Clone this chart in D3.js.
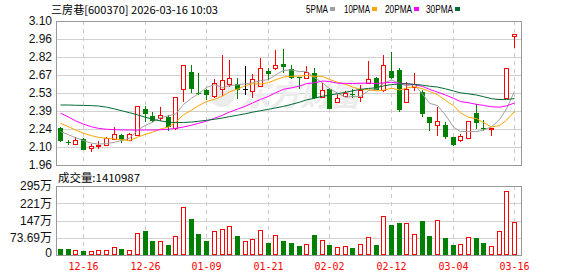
<!DOCTYPE html>
<html>
<head>
<meta charset="utf-8">
<script src="https://cdn.jsdelivr.net/npm/d3@7"></script>
<style>
  html, body { margin: 0; padding: 0; background: #fff; }
  svg { display: block; }
</style>
</head>
<body>
<div id="chart"></div>
<script>
// 交易日 (12-11 .. 03-16)
const dates = ["12-11","12-12","12-15","12-16","12-17","12-18","12-19","12-22","12-23","12-24",
  "12-25","12-26","12-29","12-30","12-31","01-05","01-06","01-07","01-08","01-09",
  "01-12","01-13","01-14","01-15","01-16","01-19","01-20","01-21","01-22","01-23",
  "01-26","01-27","01-28","01-29","01-30","02-02","02-03","02-04","02-05","02-06",
  "02-09","02-10","02-11","02-12","02-13","02-24","02-25","02-26","02-27","03-02",
  "03-03","03-04","03-05","03-06","03-09","03-10","03-11","03-12","03-13","03-16"];

const open = [2.25,2.145,2.13,2.165,2.095,2.11,2.12,2.165,2.20,2.155,
  2.195,2.40,2.35,2.33,2.34,2.255,2.56,2.70,2.53,2.55,
  2.505,2.565,2.605,2.60,2.565,2.545,2.585,2.705,2.73,2.76,
  2.72,2.655,2.645,2.685,2.495,2.565,2.455,2.505,2.525,2.50,
  2.61,2.65,2.555,2.705,2.71,2.455,2.58,2.54,2.34,2.28,
  2.275,2.18,2.155,2.17,2.375,2.255,2.245,2.48,2.49,2.985];
const high = [2.26,2.16,2.18,2.17,2.13,2.15,2.18,2.26,2.205,2.21,
  2.43,2.43,2.38,2.42,2.355,2.50,2.75,2.75,2.685,2.56,
  2.64,2.83,2.79,2.65,2.745,2.68,2.81,2.73,2.87,2.88,
  2.75,2.66,2.745,2.725,2.61,2.57,2.52,2.545,2.565,2.59,
  2.785,2.66,2.83,2.855,2.725,2.62,2.685,2.555,2.34,2.42,
  2.30,2.18,2.205,2.31,2.44,2.315,2.255,2.48,2.73,3.00];
const low = [2.15,2.13,2.12,2.09,2.06,2.09,2.115,2.155,2.145,2.15,
  2.19,2.31,2.31,2.31,2.235,2.24,2.46,2.535,2.52,2.48,
  2.49,2.51,2.58,2.49,2.525,2.49,2.58,2.64,2.71,2.70,
  2.65,2.57,2.64,2.49,2.49,2.41,2.45,2.50,2.495,2.455,
  2.605,2.56,2.54,2.65,2.39,2.455,2.545,2.35,2.235,2.19,
  2.17,2.12,2.145,2.165,2.255,2.235,2.19,2.48,2.48,2.885];
const close = [2.16,2.145,2.16,2.09,2.11,2.12,2.17,2.205,2.165,2.205,
  2.43,2.37,2.32,2.355,2.27,2.50,2.75,2.57,2.53,2.52,
  2.61,2.635,2.645,2.565,2.565,2.64,2.725,2.685,2.75,2.745,
  2.66,2.655,2.70,2.495,2.55,2.415,2.49,2.53,2.525,2.555,
  2.64,2.565,2.75,2.66,2.405,2.565,2.605,2.37,2.30,2.31,
  2.19,2.13,2.19,2.31,2.30,2.255,2.255,2.48,2.73,3.00];
// 成交量 (万手)
const volume = [25.6,25.6,20,17,15.7,20,20,32.8,25.6,20,
  92.6,102.6,59.9,59.9,42.8,79.8,203.8,153.9,89.8,59.9,
  101,109.6,122.5,81,59.9,67,105.5,51.3,85.5,59.9,
  51.3,38.5,47,85.5,64,42.8,34.2,38.5,30,47,
  77,42.8,166.7,128,138,136.8,89.8,145,81,149.6,
  72.7,42.8,47,77,72.7,51.3,38.5,102.6,273.6,141.0987];

const ma5 = [2.225,2.20,2.176,2.153,2.133,2.125,2.13,2.139,2.154,2.173,
  2.235,2.275,2.298,2.336,2.349,2.363,2.439,2.489,2.524,2.574,
  2.596,2.573,2.588,2.595,2.604,2.61,2.628,2.636,2.673,2.709,
  2.713,2.699,2.702,2.651,2.612,2.563,2.53,2.496,2.502,2.503,
  2.548,2.563,2.607,2.634,2.604,2.589,2.597,2.521,2.449,2.43,
  2.355,2.26,2.224,2.226,2.224,2.237,2.262,2.32,2.404,2.544];
const ma10 = [2.29,2.263,2.237,2.211,2.192,2.179,2.171,2.166,2.16,2.153,
  2.18,2.203,2.219,2.245,2.261,2.299,2.357,2.394,2.43,2.462,
  2.48,2.506,2.539,2.56,2.589,2.603,2.601,2.612,2.634,2.657,
  2.662,2.664,2.669,2.662,2.661,2.638,2.615,2.599,2.577,2.558,
  2.556,2.547,2.552,2.568,2.554,2.569,2.58,2.564,2.542,2.517,
  2.472,2.429,2.373,2.338,2.327,2.296,2.261,2.272,2.315,2.384];
const ma20 = [2.37,2.34,2.31,2.283,2.263,2.25,2.243,2.24,2.238,2.237,
  2.237,2.237,2.237,2.239,2.243,2.25,2.261,2.275,2.29,2.307,
  2.33,2.354,2.379,2.402,2.425,2.451,2.479,2.503,2.532,2.559,
  2.571,2.585,2.604,2.611,2.625,2.621,2.608,2.606,2.605,2.607,
  2.609,2.605,2.61,2.615,2.607,2.603,2.597,2.582,2.559,2.537,
  2.514,2.488,2.462,2.453,2.44,2.432,2.421,2.418,2.428,2.451];
const ma30 = [2.435,2.435,2.433,2.432,2.43,2.427,2.418,2.404,2.39,2.374,
  2.357,2.338,2.322,2.309,2.299,2.295,2.297,2.30,2.306,2.314,
  2.322,2.332,2.343,2.354,2.366,2.378,2.39,2.401,2.412,2.424,
  2.44,2.457,2.475,2.489,2.504,2.513,2.524,2.535,2.547,2.559,
  2.566,2.572,2.586,2.597,2.601,2.603,2.598,2.592,2.584,2.577,
  2.563,2.546,2.531,2.523,2.514,2.501,2.485,2.478,2.478,2.486];

const priceTicks = [3.10, 2.9575, 2.815, 2.6725, 2.53, 2.3875, 2.245, 2.1025, 1.96];
const priceTickLabels = ["3.10","2.96","2.82","2.67","2.53","2.39","2.24","2.10","1.96"];
const volTicks = [294.76, 221.07, 147.38, 73.69, 0];
const volTickLabels = ["295万","221万","147万","73.69万","0"];
const xTickLabels = ["12-16","12-26","01-09","01-21","02-02","02-12","03-04","03-16"];

const maNames = ["5PMA","10PMA","20PMA","30PMA"];
const maColors = ["#a0a0a0","#ffa500","#ff00ff","#006b33"];
const maSeries = [ma5, ma10, ma20, ma30];

const W = 578, H = 276;
const left = 56, right = 522;
const pTop = 21, pBottom = 165, vTop = 186, vBottom = 255;
const RED = "#ff0000", GREEN = "#008000";

const rows = dates.map((d, i) => ({
  date: d, i, o: open[i], h: high[i], l: low[i], c: close[i], v: volume[i],
  prev: i > 0 ? close[i - 1] : open[i]
}));
rows.forEach(r => {
  if (r.c > r.o) r.dir = 1;
  else if (r.c < r.o) r.dir = -1;
  else r.dir = r.c > r.prev ? 1 : (r.c < r.prev ? -1 : 0);
});
const colorOf = r => r.dir > 0 ? RED : (r.dir < 0 ? GREEN : "#000");

const x = d3.scaleBand().domain(dates).range([left, 518]);
const cx = d => Math.round(x(d) + x.bandwidth() / 2) + 0.5;
const y = d3.scaleLinear().domain([1.96, 3.10]).range([pBottom, pTop]);
const yv = d3.scaleLinear().domain([0, 294.76]).range([vBottom, vTop]);

const svg = d3.select("#chart").append("svg")
  .attr("width", W).attr("height", H)
  .attr("font-family", "'Liberation Sans', Arial, sans-serif");

// 网格
const grid = svg.append("g").attr("shape-rendering", "crispEdges");
grid.selectAll("line.ph").data(priceTicks).join("line")
  .attr("x1", left).attr("x2", right)
  .attr("y1", d => Math.round(y(d)) + 0.5).attr("y2", d => Math.round(y(d)) + 0.5)
  .attr("stroke", "#d0d0d0");
grid.selectAll("line.vh").data(volTicks).join("line")
  .attr("x1", left).attr("x2", right)
  .attr("y1", d => Math.round(yv(d)) + 0.5).attr("y2", d => Math.round(yv(d)) + 0.5)
  .attr("stroke", "#d0d0d0");
[[pTop, pBottom], [vTop, vBottom]].forEach(([t, b]) => {
  grid.append("g").selectAll("line").data(xTickLabels).join("line")
    .attr("x1", d => cx(d)).attr("x2", d => cx(d))
    .attr("y1", t).attr("y2", b)
    .attr("stroke", "#cccccc").attr("stroke-dasharray", "4,4");
});

// 水印
const wm = svg.append("g").attr("fill", "#ececec");
wm.append("circle").attr("cx", 222).attr("cy", 94).attr("r", 13);
wm.append("text").attr("x", 240).attr("y", 106)
  .attr("font-family", "'Noto Sans CJK SC'").attr("font-weight", "bold")
  .attr("font-style", "italic").attr("font-size", 30)
  .text("东方财富");

// K线
const candles = svg.append("g").attr("shape-rendering", "crispEdges");
const bw = 5;
rows.forEach(r => {
  const col = colorOf(r);
  const xc = cx(r.date);
  const top = Math.round(y(Math.max(r.o, r.c)));
  const bot = Math.round(y(Math.min(r.o, r.c)));
  const yh = Math.round(y(r.h)), yl = Math.round(y(r.l));
  const g = candles.append("g");
  if (r.dir > 0 && bot > top) {
    g.append("line").attr("x1", xc).attr("x2", xc).attr("y1", yh).attr("y2", top).attr("stroke", col);
    g.append("line").attr("x1", xc).attr("x2", xc).attr("y1", bot).attr("y2", yl).attr("stroke", col);
    g.append("rect").attr("x", xc - 2).attr("y", top + 0.5).attr("width", bw - 1).attr("height", bot - top)
      .attr("fill", "#fff").attr("stroke", col);
  } else {
    g.append("line").attr("x1", xc).attr("x2", xc).attr("y1", yh).attr("y2", yl + 1).attr("stroke", col);
    g.append("rect").attr("x", xc - 2.5).attr("y", top).attr("width", bw).attr("height", Math.max(1, bot - top + 1))
      .attr("fill", col);
  }
});

// 均线
const line = d3.line().x((v, i) => cx(dates[i])).y(v => y(v));
svg.append("g").selectAll("path").data(maSeries).join("path")
  .attr("d", d => line(d)).attr("fill", "none")
  .attr("stroke", (d, i) => maColors[i]).attr("stroke-width", 1);

// 成交量
const vol = svg.append("g").attr("shape-rendering", "crispEdges");
rows.forEach(r => {
  const xc = cx(r.date);
  const t = Math.round(yv(r.v));
  if (r.dir >= 0) {
    vol.append("rect").attr("x", xc - 2).attr("y", t + 0.5).attr("width", bw - 1).attr("height", vBottom - t - 1)
      .attr("fill", "#fff").attr("stroke", RED);
  } else {
    vol.append("rect").attr("x", xc - 2.5).attr("y", t).attr("width", bw).attr("height", vBottom - t)
      .attr("fill", GREEN);
  }
});

// 边框
const frame = svg.append("g").attr("fill", "none").attr("stroke", "#999").attr("shape-rendering", "crispEdges");
frame.append("rect").attr("x", left + 0.5).attr("y", pTop + 0.5).attr("width", right - left - 1).attr("height", pBottom - pTop);
frame.append("rect").attr("x", left + 0.5).attr("y", vTop + 0.5).attr("width", right - left - 1).attr("height", vBottom - vTop);

// 坐标轴文字
const axisText = svg.append("g").attr("font-size", 12).attr("fill", "#111").attr("text-anchor", "end");
axisText.selectAll("text.p").data(priceTicks).join("text")
  .attr("x", 52).attr("y", d => y(d)).attr("dy", "0.36em")
  .text((d, i) => priceTickLabels[i]);
axisText.selectAll("text.v").data(volTicks).join("text")
  .attr("x", 52).attr("y", d => Math.min(yv(d), vBottom - 2)).attr("dy", "0.36em")
  .attr("font-family", "'Liberation Sans','Noto Sans CJK SC',sans-serif")
  .text((d, i) => volTickLabels[i]);

svg.append("g").attr("font-family", "'DejaVu Sans Mono', monospace").attr("font-size", 10)
  .attr("fill", RED).attr("text-anchor", "middle")
  .selectAll("text").data(xTickLabels).join("text")
  .attr("x", d => cx(d)).attr("y", 270).text(d => d);

// 标题与图例
const cjk = "'Noto Sans CJK SC', 'DejaVu Sans Mono', sans-serif";
svg.append("text").attr("x", 51).attr("y", 14).attr("font-family", cjk).attr("font-size", 11)
  .attr("fill", "#000").attr("textLength", 167).attr("lengthAdjust", "spacingAndGlyphs")
  .text("三房巷[600370] 2026-03-16 10:03");
svg.append("text").attr("x", 58).attr("y", 182).attr("font-family", cjk).attr("font-size", 11)
  .attr("fill", "#000").attr("textLength", 82).attr("lengthAdjust", "spacingAndGlyphs")
  .text("成交量:" + Math.round(volume[volume.length - 1] * 10000));

const legendX = [306, 344, 385, 426];
const legendW = [22, 26, 27, 27];
const legend = svg.append("g").attr("font-family", "'Liberation Sans', sans-serif").attr("font-size", 11);
maNames.forEach((n, i) => {
  legend.append("text").attr("x", legendX[i]).attr("y", 13)
    .attr("textLength", legendW[i]).attr("lengthAdjust", "spacingAndGlyphs").text(n);
  legend.append("rect").attr("x", legendX[i] + legendW[i] + 2).attr("y", 7)
    .attr("width", 5).attr("height", 4).attr("fill", maColors[i]);
});
</script>
</body>
</html>
